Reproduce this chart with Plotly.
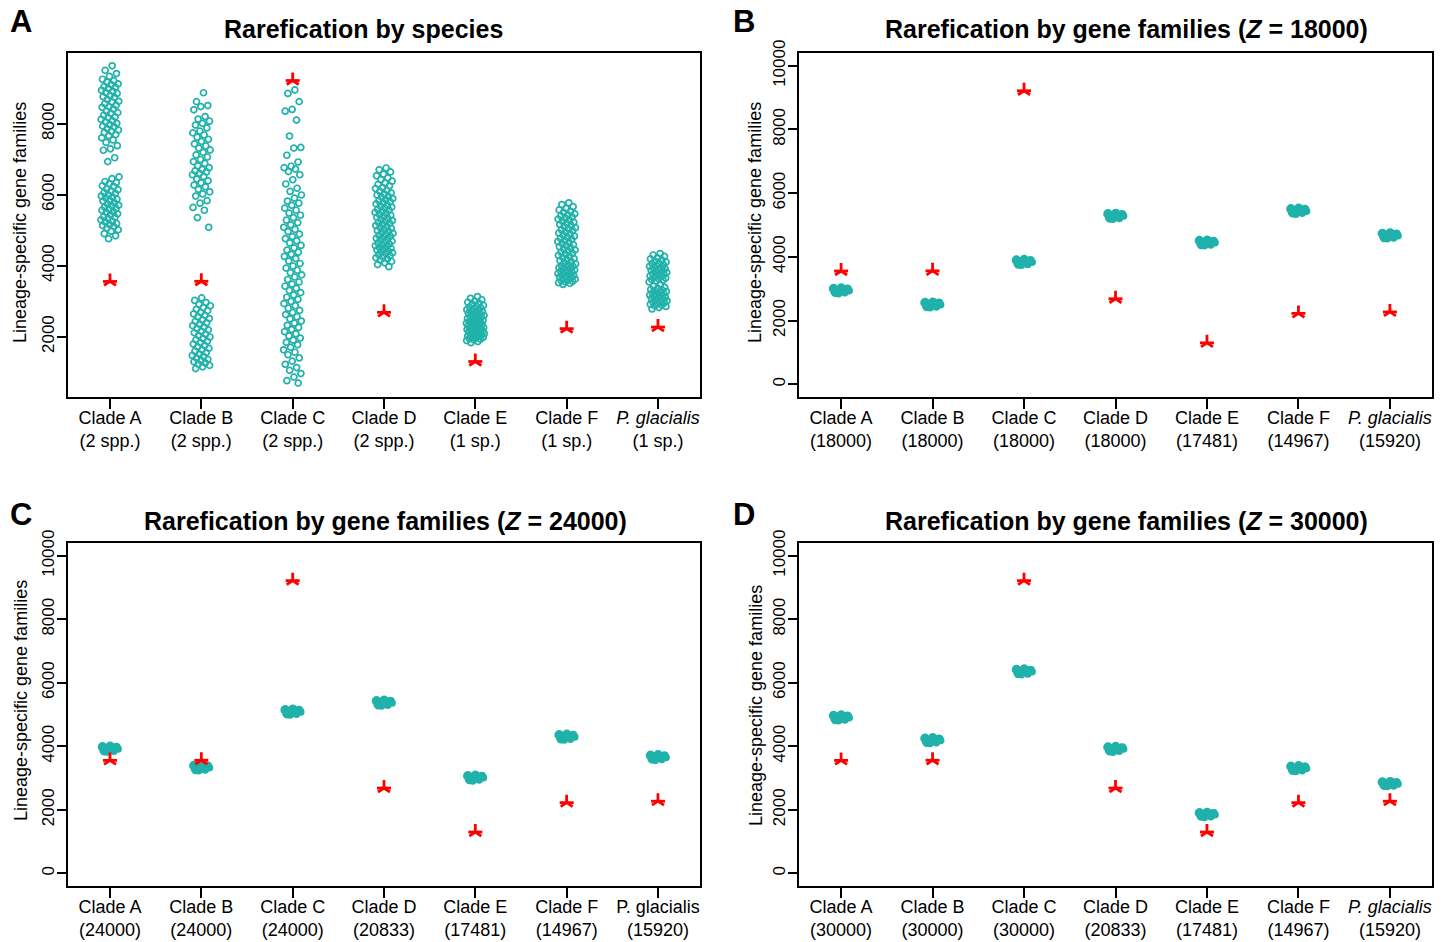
import plotly.graph_objects as go

W, H = 1451, 942
FONT = "Liberation Sans, Arial, Helvetica, sans-serif"
TEAL = "#20B2AA"
RED = "#FF0000"

# ---------------- data ----------------
categories = ["Clade A", "Clade B", "Clade C", "Clade D", "Clade E", "Clade F", "P. glacialis"]

labels_species = ["Clade A<br>(2 spp.)", "Clade B<br>(2 spp.)", "Clade C<br>(2 spp.)", "Clade D<br>(2 spp.)",
                  "Clade E<br>(1 sp.)", "Clade F<br>(1 sp.)", "<i>P. glacialis</i><br>(1 sp.)"]
labels_z18 = ["Clade A<br>(18000)", "Clade B<br>(18000)", "Clade C<br>(18000)", "Clade D<br>(18000)",
              "Clade E<br>(17481)", "Clade F<br>(14967)", "<i>P. glacialis</i><br>(15920)"]
labels_z24 = ["Clade A<br>(24000)", "Clade B<br>(24000)", "Clade C<br>(24000)", "Clade D<br>(20833)",
              "Clade E<br>(17481)", "Clade F<br>(14967)", "P. glacialis<br>(15920)"]
labels_z30 = ["Clade A<br>(30000)", "Clade B<br>(30000)", "Clade C<br>(30000)", "Clade D<br>(20833)",
              "Clade E<br>(17481)", "Clade F<br>(14967)", "<i>P. glacialis</i><br>(15920)"]

# observed (red asterisks)
observed = [3555, 3560, 9215, 2685, 1300, 2225, 2270]

# Panel A: rarefication by species
sp_cladeA = [9630, 9500, 9410, 9330, 9250, 9210, 9170, 9120, 9100, 9050, 9020, 8990, 8940, 8910, 8870,
             8850, 8790, 8760, 8740, 8680, 8630, 8610, 8560, 8520, 8480, 8460, 8410, 8350, 8310, 8290,
             8240, 8190, 8170, 8120, 8080, 8050, 8010, 7970, 7930, 7910, 7860, 7820, 7780, 7750, 7690,
             7660, 7600, 7540, 7470, 7380, 7290, 7250, 7040, 6930,
             6500, 6450, 6370, 6340, 6310, 6250, 6230, 6160, 6140, 6100, 6060, 6030, 5990, 5960, 5930,
             5910, 5870, 5830, 5820, 5770, 5740, 5700, 5690, 5650, 5610, 5590, 5560, 5520, 5500, 5460,
             5430, 5380, 5360, 5330, 5290, 5250, 5230, 5190, 5160, 5130, 5100, 5060, 5010, 4970, 4900,
             4840, 4760]
sp_cladeB = [8870, 8620, 8510, 8480, 8390, 8200, 8130, 8070, 8010, 7960, 7880, 7790, 7740, 7680, 7620,
             7560, 7500, 7430, 7370, 7310, 7260, 7190, 7120, 7060, 6990, 6930, 6880, 6810, 6760, 6710,
             6670, 6640, 6600, 6560, 6510, 6440, 6390, 6330, 6270, 6220, 6150, 6080, 6020, 5960, 5830,
             5760, 5640, 5560, 5350, 5080,
             3090, 3020, 2960, 2910, 2870, 2820, 2770, 2730, 2680, 2640, 2600, 2560, 2510, 2470, 2430,
             2390, 2350, 2310, 2270, 2230, 2190, 2150, 2110, 2070, 2030, 1990, 1950, 1910, 1870, 1830,
             1790, 1750, 1710, 1670, 1630, 1590, 1550, 1510, 1470, 1440, 1400, 1360, 1330, 1290, 1260,
             1230, 1190, 1150, 1100]
sp_cladeC = [8950, 8850, 8620, 8400, 8350, 8100, 7650, 7330, 7310, 7110, 6920, 6800, 6760, 6720, 6650,
             6560, 6420, 6300, 6180, 6090, 5990, 5900, 5820, 5760, 5700, 5620, 5560, 5480, 5420, 5350,
             5280, 5210, 5150, 5080, 5020, 4960, 4890, 4820, 4760, 4700, 4640, 4570, 4500, 4440, 4380,
             4320, 4260, 4200, 4130, 4060, 3990, 3930, 3870, 3800, 3740, 3680, 3610, 3540, 3480, 3420,
             3360, 3300, 3240, 3170, 3110, 3050, 2990, 2930, 2870, 2800, 2740, 2680, 2620, 2560, 2500,
             2440, 2380, 2320, 2260, 2200, 2140, 2080, 2020, 1960, 1900, 1840, 1770, 1700, 1630, 1560,
             1490, 1400, 1310, 1220, 1130, 1050, 960, 860, 760, 690]
sp_cladeD = [6750, 6700, 6640, 6580, 6530, 6470, 6420, 6380, 6330, 6290, 6250, 6200, 6170, 6120, 6090,
             6050, 6020, 5990, 5950, 5930, 5890, 5860, 5830, 5800, 5770, 5740, 5700, 5680, 5650, 5620,
             5590, 5560, 5530, 5500, 5470, 5450, 5420, 5390, 5360, 5330, 5300, 5270, 5250, 5220, 5190,
             5160, 5130, 5100, 5080, 5050, 5020, 4990, 4960, 4940, 4910, 4880, 4850, 4830, 4800, 4770,
             4750, 4720, 4690, 4670, 4640, 4610, 4590, 4560, 4540, 4510, 4490, 4460, 4440, 4410, 4390,
             4360, 4340, 4310, 4280, 4250, 4220, 4190, 4160, 4120, 4080, 4030, 3970]
sp_cladeE = [3130, 3080, 3040, 3000, 2970, 2940, 2910, 2880, 2860, 2830, 2810, 2780, 2760, 2740, 2720,
             2700, 2680, 2660, 2640, 2620, 2600, 2590, 2570, 2550, 2530, 2510, 2500, 2480, 2460, 2450,
             2430, 2410, 2400, 2380, 2370, 2350, 2340, 2320, 2310, 2290, 2280, 2260, 2250, 2240, 2220,
             2210, 2200, 2180, 2170, 2160, 2140, 2130, 2120, 2100, 2090, 2080, 2060, 2050, 2040, 2020,
             2010, 1990, 1980, 1960, 1950, 1930, 1910, 1890, 1860, 1830]
sp_cladeF = [5770, 5720, 5660, 5610, 5570, 5530, 5500, 5460, 5430, 5400, 5370, 5340, 5310, 5280, 5250,
             5220, 5190, 5160, 5130, 5100, 5070, 5040, 5010, 4980, 4950, 4920, 4890, 4860, 4830, 4800,
             4770, 4740, 4710, 4680, 4650, 4620, 4590, 4560, 4530, 4500, 4470, 4440, 4410, 4380, 4350,
             4320, 4290, 4260, 4230, 4200, 4170, 4140, 4110, 4080, 4050, 4020, 4000, 3980, 3960, 3940,
             3920, 3900, 3880, 3860, 3840, 3820, 3800, 3780, 3760, 3740, 3720, 3700, 3680, 3660, 3640,
             3620, 3600, 3580, 3560, 3540, 3520, 3500, 3470]
sp_glacialis = [4340, 4300, 4260, 4220, 4190, 4160, 4130, 4100, 4070, 4050, 4020, 4000, 3980, 3950, 3930,
                3910, 3890, 3870, 3850, 3830, 3810, 3790, 3770, 3750, 3730, 3710, 3690, 3670, 3650, 3630,
                3610, 3590, 3570, 3540,
                3460, 3420, 3390, 3360, 3330, 3310, 3290, 3270, 3250, 3230, 3210, 3190, 3170, 3150, 3130,
                3110, 3090, 3070, 3050, 3030, 3010, 2990, 2970, 2950, 2930, 2910, 2890, 2870, 2850, 2820,
                2780]

# Panel B: Z = 18000
z18_A = [2950, 2885, 3015, 2920, 3040, 2870, 2985, 2935, 3025, 2860, 2965, 2905, 3000, 2930, 2880, 2990, 3050, 2900, 2970, 2845]
z18_B = [2510, 2440, 2575, 2480, 2600, 2425, 2545, 2495, 2585, 2410, 2525, 2465, 2560, 2490, 2435, 2550, 2610, 2455, 2530, 2400]
z18_C = [3845, 3775, 3910, 3815, 3935, 3760, 3880, 3830, 3920, 3745, 3860, 3800, 3895, 3825, 3770, 3885, 3945, 3790, 3865, 3735]
z18_D = [5290, 5220, 5355, 5265, 5385, 5205, 5330, 5280, 5370, 5190, 5310, 5245, 5345, 5275, 5215, 5335, 5395, 5235, 5315, 5180]
z18_E = [4450, 4385, 4515, 4425, 4545, 4370, 4490, 4440, 4530, 4355, 4470, 4410, 4505, 4435, 4380, 4495, 4555, 4400, 4475, 4345]
z18_F = [5450, 5380, 5515, 5420, 5540, 5365, 5490, 5435, 5525, 5350, 5470, 5405, 5505, 5430, 5375, 5495, 5555, 5395, 5480, 5340]
z18_P = [4680, 4610, 4740, 4650, 4765, 4595, 4715, 4665, 4755, 4580, 4695, 4635, 4730, 4660, 4605, 4725, 4780, 4625, 4700, 4570]

# Panel C: Z = 24000
z24_A = [3925, 3860, 3990, 3895, 4015, 3845, 3965, 3915, 4000, 3830, 3940, 3880, 3975, 3905, 3855, 3970, 4030, 3875, 3950, 3820]
z24_B = [3335, 3270, 3400, 3305, 3425, 3255, 3375, 3325, 3410, 3240, 3350, 3290, 3385, 3315, 3265, 3380, 3440, 3285, 3360, 3230]
z24_C = [5090, 5025, 5155, 5060, 5180, 5010, 5130, 5080, 5165, 4995, 5105, 5045, 5140, 5070, 5020, 5135, 5195, 5040, 5115, 4985]
z24_D = [5375, 5305, 5440, 5345, 5465, 5290, 5415, 5360, 5450, 5275, 5390, 5330, 5425, 5355, 5300, 5420, 5480, 5320, 5395, 5265]
z24_E = [3015, 2950, 3080, 2985, 3105, 2935, 3055, 3005, 3090, 2920, 3030, 2970, 3065, 2995, 2945, 3060, 3120, 2965, 3040, 2910]
z24_F = [4305, 4235, 4370, 4275, 4395, 4220, 4345, 4290, 4380, 4205, 4320, 4260, 4355, 4285, 4230, 4350, 4410, 4250, 4325, 4195]
z24_P = [3660, 3595, 3725, 3630, 3750, 3580, 3700, 3650, 3735, 3565, 3675, 3615, 3710, 3640, 3590, 3705, 3765, 3610, 3685, 3555]

# Panel D: Z = 30000
z30_A = [4910, 4845, 4975, 4880, 5000, 4830, 4950, 4900, 4985, 4815, 4925, 4865, 4960, 4890, 4840, 4955, 5015, 4860, 4935, 4805]
z30_B = [4195, 4125, 4255, 4165, 4280, 4110, 4230, 4180, 4270, 4095, 4210, 4150, 4245, 4175, 4120, 4240, 4300, 4140, 4215, 4085]
z30_C = [6360, 6290, 6420, 6330, 6445, 6275, 6395, 6350, 6435, 6260, 6375, 6315, 6410, 6340, 6285, 6405, 6465, 6305, 6380, 6250]
z30_D = [3920, 3855, 3980, 3890, 4005, 3840, 3960, 3910, 3995, 3825, 3935, 3875, 3970, 3900, 3850, 3965, 4020, 3870, 3945, 3815]
z30_E = [1855, 1795, 1910, 1830, 1935, 1780, 1890, 1845, 1925, 1770, 1870, 1815, 1900, 1840, 1790, 1895, 1945, 1810, 1875, 1760]
z30_F = [3310, 3245, 3375, 3285, 3400, 3230, 3350, 3300, 3385, 3215, 3325, 3265, 3360, 3295, 3240, 3355, 3415, 3260, 3335, 3205]
z30_P = [2825, 2765, 2880, 2800, 2905, 2750, 2860, 2815, 2895, 2740, 2840, 2785, 2870, 2810, 2760, 2865, 2915, 2780, 2845, 2730]

panels = [
    dict(series=[sp_cladeA, sp_cladeB, sp_cladeC, sp_cladeD, sp_cladeE, sp_cladeF, sp_glacialis],
         labels=labels_species, title="<b>Rarefication by species</b>", letter="A", dense=False),
    dict(series=[z18_A, z18_B, z18_C, z18_D, z18_E, z18_F, z18_P],
         labels=labels_z18, title="<b>Rarefication by gene families (<i>Z</i> = 18000)</b>", letter="B", dense=True),
    dict(series=[z24_A, z24_B, z24_C, z24_D, z24_E, z24_F, z24_P],
         labels=labels_z24, title="<b>Rarefication by gene families (<i>Z</i> = 24000)</b>", letter="C", dense=True),
    dict(series=[z30_A, z30_B, z30_C, z30_D, z30_E, z30_F, z30_P],
         labels=labels_z30, title="<b>Rarefication by gene families (<i>Z</i> = 30000)</b>", letter="D", dense=True),
]

# ---------------- layout geometry (pixels) ----------------
frames = [(68, 700, 53, 397), (799, 1432, 53, 397), (68, 700, 543, 886), (799, 1432, 543, 886)]
title_pos = [(363, 29), (1126, 29), (385, 521), (1126, 521)]
letter_pos = [(21, 22), (744, 22), (21, 514), (744, 514)]
ytitle_pos = [(20, 223), (755, 222), (21, 701), (756, 706)]


def jitter(n, k, amount=0.1):
    g = 0.6180339887
    return [k + amount * (2 * (((i + 1) * g) % 1.0) - 1) for i in range(n)]


fig = go.Figure()
annotations = []

for p, panel in enumerate(panels):
    ax = "" if p == 0 else str(p + 1)
    xs, ys = [], []
    for k, vals in enumerate(panel["series"]):
        xs += jitter(len(vals), k + 1)
        ys += vals
    if panel["dense"]:
        mk = dict(symbol="circle", size=7.5, color=TEAL, line=dict(width=0))
    else:
        mk = dict(symbol="circle-open", size=6, color=TEAL, line=dict(width=1.7, color=TEAL))
    fig.add_trace(go.Scatter(
        x=xs, y=ys, mode="markers", xaxis="x" + ax, yaxis="y" + ax,
        marker=mk, hoverinfo="y", showlegend=False))
    cx = list(range(1, len(categories) + 1))
    for sym in ["y-up-open", "line-ew-open"]:
        fig.add_trace(go.Scatter(
            x=cx, y=observed, mode="markers", xaxis="x" + ax, yaxis="y" + ax,
            marker=dict(symbol=sym, size=10, color=RED, line=dict(width=2.8, color=RED)),
            hoverinfo="y", showlegend=False))

    l, r, t, b = frames[p]
    xdom = [l / W, r / W]
    ydom = [1 - b / H, 1 - t / H]
    if p == 0:
        yrange = [300, 9990]
        yticks = [2000, 4000, 6000, 8000]
    else:
        yrange = [-400, 10400]
        yticks = [0, 2000, 4000, 6000, 8000, 10000]
    fig.layout["xaxis" + ax] = dict(
        domain=xdom, anchor="y" + ax, range=[0.54, 7.46], automargin=False,
        tickmode="array", tickvals=cx, ticktext=panel["labels"],
        ticks="outside", ticklen=10, tickwidth=2, tickcolor="black", ticklabelstandoff=-7,
        showline=True, linewidth=2, linecolor="black", mirror=True,
        showgrid=False, zeroline=False, fixedrange=True,
        tickfont=dict(family=FONT, size=18, color="black"))
    fig.layout["yaxis" + ax] = dict(
        domain=ydom, anchor="x" + ax, range=yrange, automargin=False,
        tickmode="array", tickvals=yticks, ticktext=[str(v) for v in yticks],
        ticks="outside", ticklen=9, tickwidth=2, tickcolor="black", tickangle=-90,
        ticklabelstandoff=-4,
        showline=True, linewidth=2, linecolor="black", mirror=True,
        showgrid=False, zeroline=False, fixedrange=True,
        tickfont=dict(family=FONT, size=17, color="black"))

    tx, ty = title_pos[p]
    annotations.append(dict(text=panel["title"], x=tx / W, y=1 - ty / H, xref="paper", yref="paper",
                            xanchor="center", yanchor="middle", showarrow=False,
                            font=dict(family=FONT, size=25, color="black")))
    lx, ly = letter_pos[p]
    annotations.append(dict(text="<b>" + panel["letter"] + "</b>", x=lx / W, y=1 - ly / H,
                            xref="paper", yref="paper", xanchor="center", yanchor="middle",
                            showarrow=False, font=dict(family=FONT, size=31, color="black")))
    yx, yy = ytitle_pos[p]
    annotations.append(dict(text="Lineage-specific gene families", x=yx / W, y=1 - yy / H,
                            xref="paper", yref="paper", xanchor="center", yanchor="middle",
                            textangle=-90, showarrow=False,
                            font=dict(family=FONT, size=18, color="black")))

fig.update_layout(
    width=W, height=H, autosize=False,
    margin=dict(l=0, r=0, t=0, b=0, pad=0, autoexpand=False),
    paper_bgcolor="white", plot_bgcolor="white",
    showlegend=False, annotations=annotations,
    font=dict(family=FONT, color="black"))

fig.write_html("out.html", config={"displayModeBar": False, "responsive": False},
               post_script="document.body.style.margin='0';document.body.style.overflow='hidden';")
